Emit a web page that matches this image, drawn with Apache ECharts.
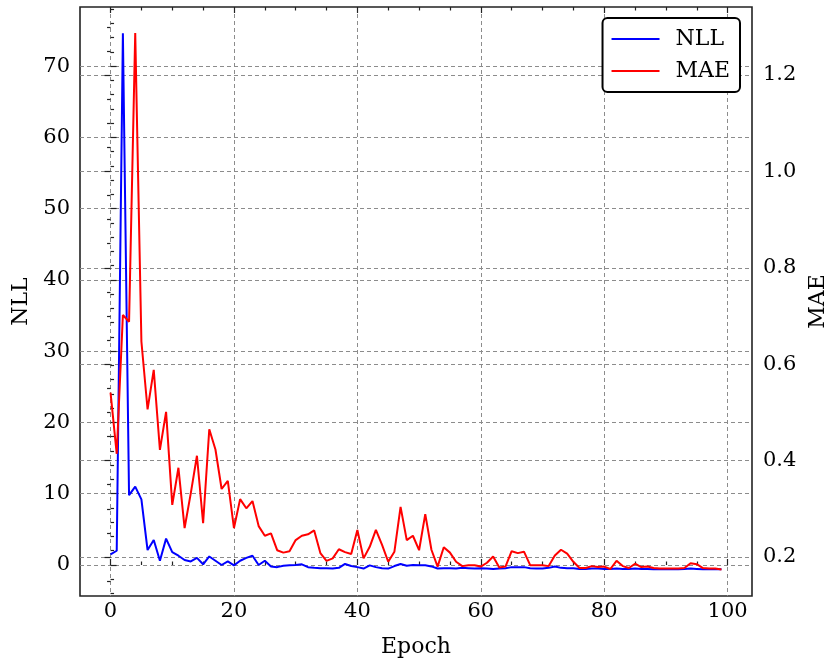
<!DOCTYPE html>
<html><head><meta charset="utf-8">
<script src="https://cdn.jsdelivr.net/npm/echarts@6/dist/echarts.min.js"></script>
<style>html,body{margin:0;padding:0;background:#fff}#c{width:829px;height:662px}</style>
</head><body><div id="c"></div>
<script>
const nll = [1.5, 2.0, 74.6, 9.8, 11.0, 9.2, 2.1, 3.5, 0.6, 3.7,
  1.8, 1.3, 0.7, 0.5, 1.0, 0.1, 1.2, 0.6, 0.0, 0.5,
  -0.05, 0.6, 1.0, 1.3, 0.0, 0.6, -0.2, -0.3, -0.1, -0.05,
  0.0, 0.1, -0.3, -0.4, -0.45, -0.45, -0.5, -0.4, 0.15, -0.15,
  -0.3, -0.5, -0.05, -0.3, -0.45, -0.5, -0.15, 0.15, -0.1, 0.0,
  -0.05, -0.05, -0.2, -0.5, -0.45, -0.45, -0.5, -0.4, -0.45, -0.5,
  -0.45, -0.5, -0.55, -0.5, -0.45, -0.3, -0.3, -0.3, -0.45, -0.5,
  -0.5, -0.4, -0.2, -0.4, -0.45, -0.45, -0.55, -0.55, -0.5, -0.5,
  -0.55, -0.55, -0.5, -0.55, -0.55, -0.5, -0.55, -0.55, -0.6, -0.6,
  -0.6, -0.6, -0.6, -0.55, -0.5, -0.55, -0.6, -0.6, -0.6, -0.6];
const mae = [0.541, 0.414, 0.702, 0.688, 1.287, 0.647, 0.506, 0.588, 0.422, 0.501,
  0.308, 0.385, 0.260, 0.332, 0.410, 0.270, 0.465, 0.423, 0.341, 0.358,
  0.260, 0.320, 0.301, 0.316, 0.264, 0.244, 0.249, 0.214, 0.209, 0.212,
  0.235, 0.244, 0.247, 0.255, 0.208, 0.192, 0.197, 0.216, 0.210, 0.206,
  0.256, 0.197, 0.221, 0.256, 0.225, 0.190, 0.211, 0.304, 0.235, 0.244,
  0.214, 0.289, 0.215, 0.180, 0.220, 0.209, 0.190, 0.181, 0.183, 0.183,
  0.180, 0.188, 0.201, 0.178, 0.180, 0.212, 0.208, 0.211, 0.183, 0.183,
  0.183, 0.181, 0.203, 0.215, 0.207, 0.190, 0.177, 0.177, 0.181, 0.179,
  0.180, 0.175, 0.192, 0.181, 0.177, 0.186, 0.179, 0.180, 0.177, 0.176,
  0.176, 0.176, 0.176, 0.177, 0.187, 0.185, 0.177, 0.176, 0.176, 0.174];
const xTicks = [0, 20, 40, 60, 80, 100];
const xMinorTicks = [5, 10, 15, 25, 30, 35, 45, 50, 55, 65, 70, 75, 85, 90, 95];
const nllTicks = [0, 10, 20, 30, 40, 50, 60, 70];
const nllMinorTicks = [-4, -2, 2, 4, 6, 8, 12, 14, 16, 18, 22, 24, 26, 28, 32, 34, 36, 38,
  42, 44, 46, 48, 52, 54, 56, 58, 62, 64, 66, 68, 72, 74, 76, 78];
const maeTicks = [0.2, 0.4, 0.6, 0.8, 1.0, 1.2];
const maeMinorTicks = [0.15, 0.25, 0.3, 0.35, 0.45, 0.5, 0.55, 0.65, 0.7, 0.75, 0.85, 0.9, 0.95,
  1.05, 1.1, 1.15, 1.25, 1.3];

const FONT = 'DejaVu Serif';
const X_MIN = -4.95, X_MAX = 103.95;
const L_MIN = -4.35, L_MAX = 78.3;
const R_MIN = 0.119, R_MAX = 1.341;
const grid = {color: '#8c8c8c', width: 1, type: [4, 3]};
const tickCol = '#222';

function ax(opts) {
  const o = {
    type: 'value', min: opts.min, max: opts.max, position: opts.pos,
    axisLine: {show: false},
    axisTick: {show: true, inside: true, length: opts.len, customValues: opts.ticks,
      lineStyle: {color: tickCol, width: 1.2}},
    axisLabel: {show: !!opts.label, customValues: opts.ticks, margin: opts.margin || 8,
      fontFamily: FONT, fontSize: 21, color: '#000',
      formatter: opts.fmt || (v => String(v))},
    splitLine: {show: !!opts.split, lineStyle: grid},
    minorTick: {show: false}, minorSplitLine: {show: false}
  };
  if (opts.name) {
    o.name = opts.name; o.nameLocation = 'middle'; o.nameGap = opts.gap;
    o.nameTextStyle = {fontFamily: FONT, fontSize: 22, color: '#000'};
    if (opts.rot !== undefined) o.nameRotate = opts.rot;
  }
  return o;
}

const chart = echarts.init(document.getElementById('c'), null, {renderer: 'canvas'});
chart.setOption({
  animation: false,
  backgroundColor: '#fff',
  grid: {left: 80, right: 77, top: 7, bottom: 66, show: true, borderColor: '#222', borderWidth: 1.6,
    backgroundColor: 'transparent', outerBoundsMode: 'none'},
  legend: {
    data: ['NLL', 'MAE'], orient: 'vertical', right: 89, top: 18,
    icon: 'rect', itemWidth: 48, itemHeight: 2, itemGap: 10,
    borderColor: '#000', borderWidth: 2, borderRadius: 5, padding: [10, 10, 10, 9],
    backgroundColor: '#fff',
    textStyle: {fontFamily: FONT, fontSize: 22, color: '#000', padding: [0, 0, 0, 11]}
  },
  xAxis: [
    ax({min: X_MIN, max: X_MAX, pos: 'bottom', len: 6, ticks: xTicks, label: true, split: true,
      margin: 5, name: 'Epoch', gap: 40}),
    ax({min: X_MIN, max: X_MAX, pos: 'bottom', len: 3.5, ticks: xMinorTicks}),
    ax({min: X_MIN, max: X_MAX, pos: 'top', len: 6, ticks: xTicks}),
    ax({min: X_MIN, max: X_MAX, pos: 'top', len: 3.5, ticks: xMinorTicks})
  ],
  yAxis: [
    ax({min: L_MIN, max: L_MAX, pos: 'left', len: 6, ticks: nllTicks, label: true, split: true,
      margin: 10, name: 'NLL', gap: 47, rot: 90}),
    ax({min: L_MIN, max: L_MAX, pos: 'left', len: 3.5, ticks: nllMinorTicks}),
    ax({min: R_MIN, max: R_MAX, pos: 'right', len: 6, ticks: maeTicks, label: true, split: true,
      margin: 11, name: 'MAE', gap: 55, rot: 90, fmt: v => v.toFixed(1)}),
    ax({min: R_MIN, max: R_MAX, pos: 'right', len: 3.5, ticks: maeMinorTicks})
  ],
  series: [
    {type: 'line', name: 'NLL', xAxisIndex: 0, yAxisIndex: 0, data: nll.map((v, i) => [i, v]),
      symbol: 'none', showSymbol: false, z: 5, color: '#0000ff',
      lineStyle: {color: '#0000ff', width: 2}},
    {type: 'line', name: 'MAE', xAxisIndex: 0, yAxisIndex: 2, data: mae.map((v, i) => [i, v]),
      symbol: 'none', showSymbol: false, z: 6, color: '#ff0000',
      lineStyle: {color: '#ff0000', width: 2}}
  ]
});
</script></body></html>
